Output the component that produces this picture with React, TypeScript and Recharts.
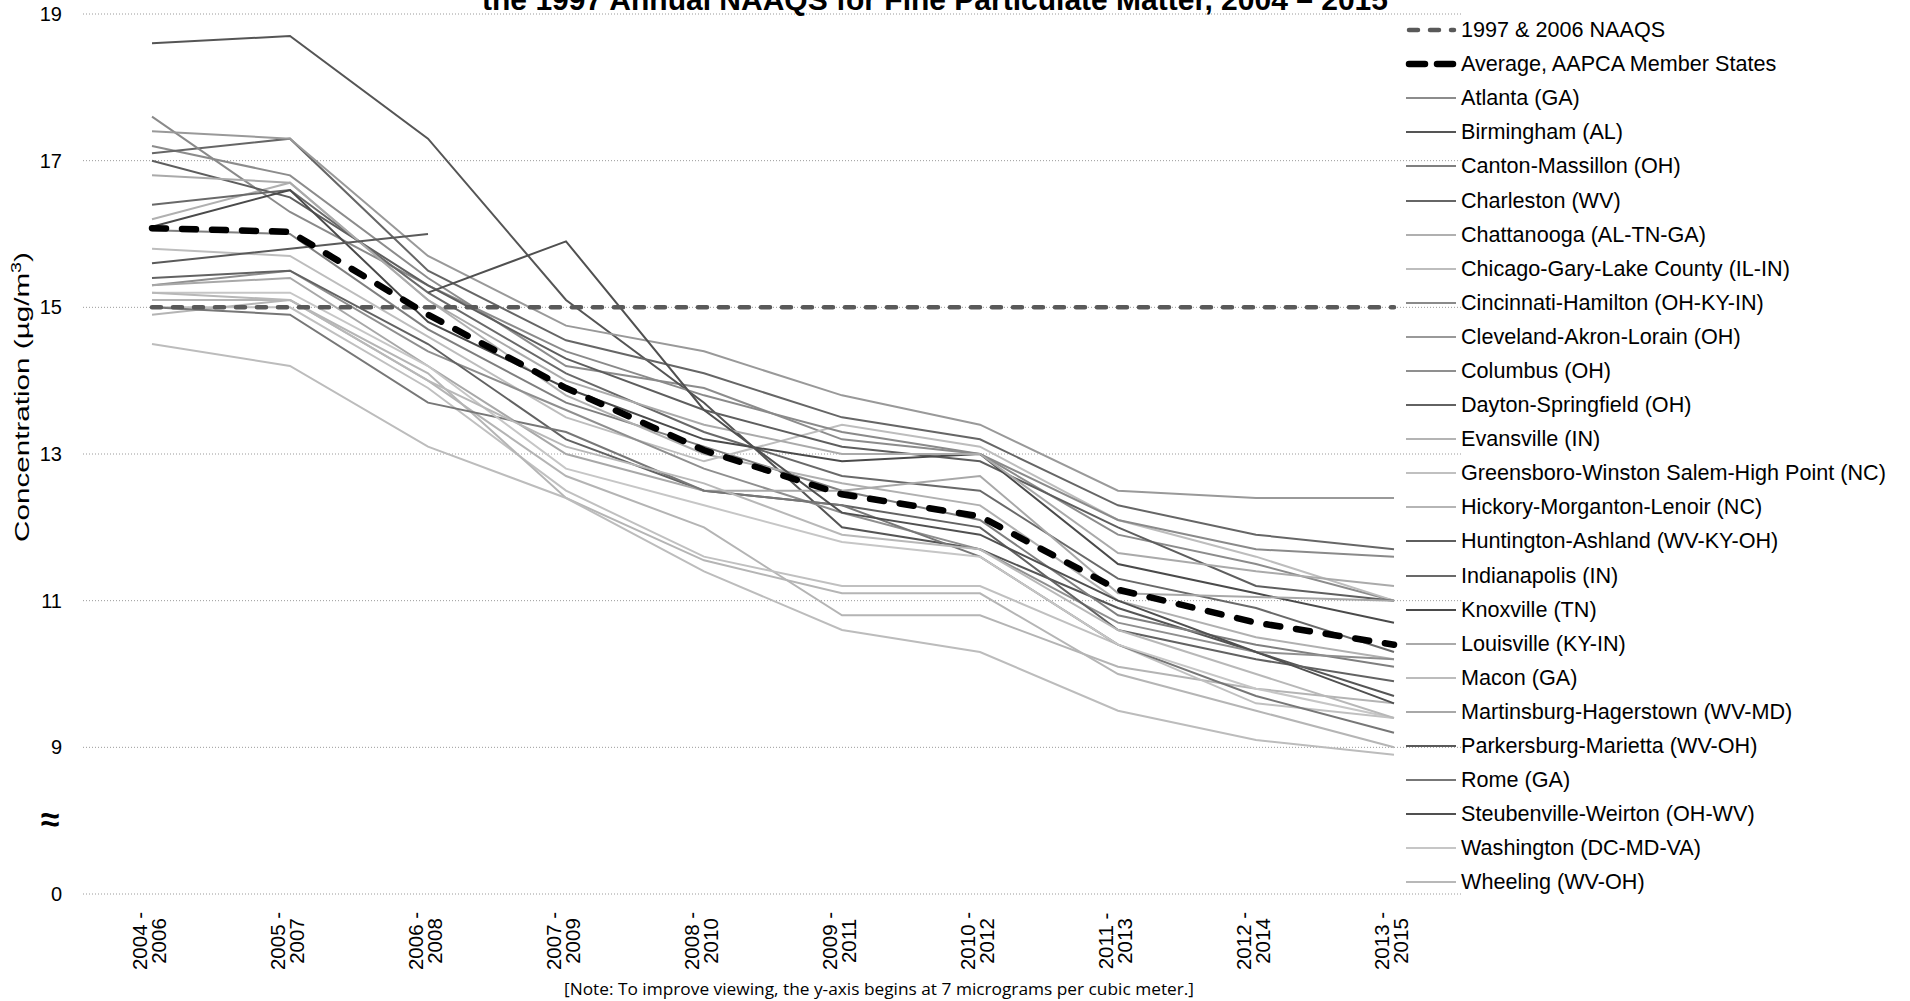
import React from 'react';
import { LineChart, Line, XAxis, YAxis, CartesianGrid, Legend } from 'recharts';

const periods = ['2004 - 2006', '2005 - 2007', '2006 - 2008', '2007 - 2009', '2008 - 2010', '2009 - 2011', '2010 - 2012', '2011 - 2013', '2012 - 2014', '2013 - 2015'];
const yTicks = [7, 9, 11, 13, 15, 17, 19];

const naaqs = [15, 15, 15, 15, 15, 15, 15, 15, 15, 15];
const average = [16.08, 16.03, 14.9, 13.9, 13.05, 12.45, 12.15, 11.15, 10.7, 10.4];

const atlanta = [17.2, 16.8, 15.4, 14.2, 13.9, 13.2, 13.0, 11.9, 11.5, 11.0];
const birmingham = [18.6, 18.7, 17.3, 15.1, 13.7, 12.0, 11.7, 10.9, 10.3, 9.7];
const canton = [16.05, 16.0, 14.7, 13.7, 13.1, 12.5, 12.1, 10.8, 10.4, 10.1];
const charleston = [17.1, 17.3, 15.5, 14.55, 14.1, 13.5, 13.2, 12.3, 11.9, 11.7];
const chattanooga = [16.2, 16.7, 15.1, 13.8, 13.0, 12.6, 12.3, 11.0, 10.5, 10.2];
const chicago = [15.8, 15.7, 14.6, 13.5, 12.9, 13.4, 13.1, 12.1, 11.6, 11.0];
const cincinnati = [17.6, 16.3, 15.3, 14.4, 13.8, 13.3, 13.0, 12.1, 11.7, 11.6];
const cleveland = [17.4, 17.3, 15.7, 14.75, 14.4, 13.8, 13.4, 12.5, 12.4, 12.4];
const columbus = [15.3, 15.5, 14.4, 13.6, 12.8, 12.2, 11.7, 10.7, 10.3, 10.2];
const dayton = [15.4, 15.5, 14.5, 13.2, 12.5, 12.3, 12.0, 10.6, 10.2, 9.9];
const evansville = [15.1, 15.1, 14.0, 12.7, 12.0, 10.8, 10.8, 10.1, 9.8, 9.6];
const greensboro = [15.0, 15.0, 13.9, 12.5, 11.6, 11.2, 11.2, 10.4, 9.6, 9.4];
const hickory = [14.9, 15.1, 14.1, 12.4, 11.55, 11.1, 11.1, 10.0, 9.5, 9.0];
const huntington = [17.0, 16.5, 15.3, 14.3, 13.6, 13.1, 12.9, 12.0, 11.2, 11.0];
const indianapolis = [16.4, 16.6, 15.2, 14.1, 13.3, 12.7, 12.5, 11.3, 10.9, 10.3];
const knoxville = [16.1, 16.6, 14.8, 13.9, 13.2, 12.9, 13.0, 11.5, 11.1, 10.7];
const louisville = [16.8, 16.7, 15.1, 14.0, 13.4, 13.0, 13.0, 11.65, 11.4, 11.2];
const macon = [14.5, 14.2, 13.1, 12.4, 11.4, 10.6, 10.3, 9.5, 9.1, 8.9];
const martinsburg = [15.3, 15.4, 14.2, 13.0, 12.5, 12.5, 12.7, 11.1, 11.05, 11.0];
const parkersburg = [15.6, 15.8, 16.0, null, null, null, null, null, null, null];
const rome = [15.0, 14.9, 13.7, 13.3, 12.5, 12.3, 11.6, 10.4, 9.7, 9.2];
const steubenville = [null, null, 15.2, 15.9, 13.6, 12.2, 11.9, 11.0, 10.3, 9.6];
const washington = [15.2, 15.2, 14.2, 12.8, 12.3, 11.8, 11.6, 10.4, 9.8, 9.4];
const wheeling = [15.2, 15.1, 14.0, 13.1, 12.6, 11.9, 11.7, 10.6, 10.0, 9.4];

const cityNames = [
  'Atlanta (GA)', 'Birmingham (AL)', 'Canton-Massillon (OH)', 'Charleston (WV)', 'Chattanooga (AL-TN-GA)',
  'Chicago-Gary-Lake County (IL-IN)', 'Cincinnati-Hamilton (OH-KY-IN)', 'Cleveland-Akron-Lorain (OH)', 'Columbus (OH)',
  'Dayton-Springfield (OH)', 'Evansville (IN)', 'Greensboro-Winston Salem-High Point (NC)', 'Hickory-Morganton-Lenoir (NC)',
  'Huntington-Ashland (WV-KY-OH)', 'Indianapolis (IN)', 'Knoxville (TN)', 'Louisville (KY-IN)', 'Macon (GA)',
  'Martinsburg-Hagerstown (WV-MD)', 'Parkersburg-Marietta (WV-OH)', 'Rome (GA)', 'Steubenville-Weirton (OH-WV)',
  'Washington (DC-MD-VA)', 'Wheeling (WV-OH)',
];
const cityValues = [
  atlanta, birmingham, canton, charleston, chattanooga, chicago, cincinnati, cleveland, columbus, dayton, evansville,
  greensboro, hickory, huntington, indianapolis, knoxville, louisville, macon, martinsburg, parkersburg, rome,
  steubenville, washington, wheeling,
];
const cityColors = [
  '#8c8c8c', '#555555', '#7f7f7f', '#666666', '#b0b0b0', '#bdbdbd', '#8a8a8a', '#999999', '#8f8f8f', '#626262',
  '#b4b4b4', '#c0c0c0', '#b5b5b5', '#5e5e5e', '#696969', '#4a4a4a', '#aaaaaa', '#bcbcbc', '#a8a8a8', '#5a5a5a',
  '#777777', '#505050', '#c6c6c6', '#b8b8b8',
];

const data = periods.map((p, i) => {
  const row: any = { period: p, naaqs: naaqs[i], average: average[i] };
  cityValues.forEach((vals, k) => {
    row['c' + k] = vals[i];
  });
  return row;
});

const FONT = '"Liberation Sans", Arial, sans-serif';

const YTick = (props: any) => {
  const { y, payload } = props;
  const v = payload.value;
  return (
    <g>
      <text x={62} y={y} dy={7} textAnchor="end" fontSize={20} fontFamily={FONT} fill="#000">
        {v === 7 ? '0' : String(v)}
      </text>
      {v === 7 && (
        <text x={50} y={y - 73} dy={10} textAnchor="middle" fontSize={34} fontWeight="bold" fontFamily={FONT} fill="#000">
          ≈
        </text>
      )}
    </g>
  );
};

const XTick = (props: any) => {
  const { x, payload } = props;
  const parts = String(payload.value).split(' - ');
  return (
    <g transform={`translate(${x},941) rotate(-90)`}>
      <text textAnchor="middle" fontSize={20.5} fontFamily={FONT} fill="#000">
        <tspan x={0} y={-5}>{parts[0] + ' -'}</tspan>
        <tspan x={0} y={14}>{parts[1]}</tspan>
      </text>
    </g>
  );
};

const YLabel = () => (
  <text
    transform="translate(29,397) rotate(-90)"
    textAnchor="middle"
    fontSize={21}
    fontFamily={FONT}
    fill="#000"
    textLength={290}
    lengthAdjust="spacingAndGlyphs"
  >
    Concentration (µg/m<tspan dy={-8} fontSize={14}>3</tspan><tspan dy={8}>)</tspan>
  </text>
);

const legendItems = [
  { name: '1997 & 2006 NAAQS', color: '#595959', width: 4.5, dash: '9 12' },
  { name: 'Average, AAPCA Member States', color: '#000000', width: 6.5, dash: '16 12' },
  ...cityNames.map((n, k) => ({ name: n, color: cityColors[k], width: 2, dash: '' })),
];

const LegendContent = () => (
  <div style={{ fontFamily: FONT, fontSize: 21.6, color: '#000' }}>
    {legendItems.map((it) => (
      <div key={it.name} style={{ height: 34.1, display: 'flex', alignItems: 'center', whiteSpace: 'nowrap' }}>
        <svg width={61} height={12} style={{ display: 'block', flex: '0 0 auto' }}>
          <line
            x1={it.dash ? 9 : 6}
            y1={6}
            x2={it.dash ? 54 : 56}
            y2={6}
            stroke={it.color}
            strokeWidth={it.width}
            strokeDasharray={it.dash || undefined}
            strokeLinecap={it.dash ? 'round' : 'butt'}
          />
        </svg>
        <span>{it.name}</span>
      </div>
    ))}
  </div>
);

export default function App() {
  return (
    <div style={{ position: 'absolute', left: 0, top: 0, width: 1910, height: 1001, background: '#fff', overflow: 'hidden' }}>
      <LineChart width={1910} height={1001} data={data} margin={{ top: 14, right: 447, bottom: 27, left: 23 }}>
        <CartesianGrid vertical={false} stroke="#9a9a9a" strokeDasharray="1 2" />
        <XAxis
          dataKey="period"
          interval={0}
          padding={{ left: 69, right: 69 }}
          axisLine={false}
          tickLine={false}
          tick={<XTick />}
          height={80}
        />
        <YAxis
          domain={[7, 19]}
          ticks={yTicks}
          type="number"
          allowDataOverflow
          axisLine={false}
          tickLine={false}
          width={60}
          tick={<YTick />}
          label={<YLabel />}
        />
        <Legend
          layout="vertical"
          align="center"
          verticalAlign="middle"
          wrapperStyle={{ left: 1400, top: 13, width: 510 }}
          content={<LegendContent />}
        />
        {cityNames.map((n, k) => (
          <Line
            key={n}
            name={n}
            dataKey={'c' + k}
            stroke={cityColors[k]}
            strokeWidth={2}
            dot={false}
            activeDot={false}
            isAnimationActive={false}
          />
        ))}
        <Line
          name="1997 & 2006 NAAQS"
          dataKey="naaqs"
          stroke="#595959"
          strokeWidth={4.5}
          strokeDasharray="9 12"
          strokeLinecap="round"
          dot={false}
          activeDot={false}
          isAnimationActive={false}
        />
        <Line
          name="Average, AAPCA Member States"
          dataKey="average"
          stroke="#000000"
          strokeWidth={6.5}
          strokeDasharray="14 16"
          strokeLinecap="round"
          dot={false}
          activeDot={false}
          isAnimationActive={false}
        />
      </LineChart>
      <svg width={1910} height={1001} style={{ position: 'absolute', left: 0, top: 0, pointerEvents: 'none' }}>
        <text x={935} y={10} textAnchor="middle" fontSize={30} fontWeight="bold" fontFamily={FONT} fill="#000">
          the 1997 Annual NAAQS for Fine Particulate Matter, 2004 – 2015
        </text>
        <text x={879} y={995} textAnchor="middle" fontSize={17} fontFamily='"Open Sans", sans-serif' fill="#000" textLength={630} lengthAdjust="spacingAndGlyphs">
          [Note: To improve viewing, the y-axis begins at 7 micrograms per cubic meter.]
        </text>
      </svg>
    </div>
  );
}
